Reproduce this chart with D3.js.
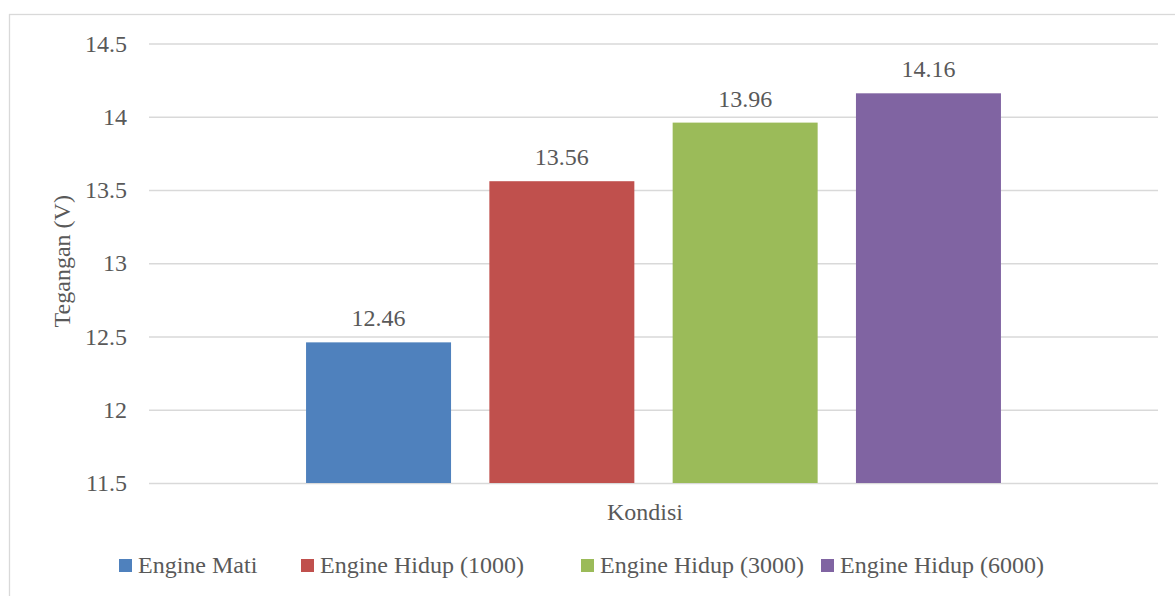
<!DOCTYPE html>
<html>
<head>
<meta charset="utf-8">
<script src="https://cdn.jsdelivr.net/npm/d3@7"></script>
<style>
  body { margin: 0; background: #fff; }
  text { font-family: "Liberation Serif", "Times New Roman", serif; fill: #595959; }
</style>
</head>
<body>
<div id="chart"></div>
<script>
var width = 1175, height = 596;
var margin = { top: 43.5, right: 17, bottom: 113, left: 149 };

var category = ["Kondisi"];
var series = ["Engine Mati", "Engine Hidup (1000)", "Engine Hidup (3000)", "Engine Hidup (6000)"];
var values = [12.46, 13.56, 13.96, 14.16];
var colours = ["#4f81bd", "#c0504d", "#9bbb59", "#8064a2"];
var yTicks = [11.5, 12, 12.5, 13, 13.5, 14, 14.5];

// legend item left edges (layout only)
var legendX = [119, 301, 581, 821];

var svg = d3.select("#chart")
    .append("svg")
    .attr("width", width)
    .attr("height", height);

// chart outer border (only top and left show inside the picture)
svg.append("rect")
    .attr("x", 9.5).attr("y", 14.5)
    .attr("width", 1300).attr("height", 800)
    .attr("fill", "none")
    .attr("stroke", "#d9d9d9")
    .attr("stroke-width", 1.3);

var x0 = d3.scaleBand()
    .domain(category)
    .range([margin.left, width - margin.right])
    .paddingInner(0)
    .paddingOuter(0.226);

var x1 = d3.scaleBand()
    .domain(series)
    .range([0, x0.bandwidth()])
    .paddingInner(0.209)
    .paddingOuter(0);

var y = d3.scaleLinear()
    .domain([11.5, 14.5])
    .range([height - margin.bottom, margin.top]);

// gridlines + tick labels
var yAxis = d3.axisLeft(y)
    .tickValues(yTicks)
    .tickSize(-(width - margin.right - margin.left))
    .tickPadding(22)
    .tickFormat(function(d){ return String(d); });

var ga = svg.append("g")
    .attr("transform", "translate(" + margin.left + ",0)")
    .call(yAxis);
ga.select(".domain").remove();
ga.selectAll(".tick line").attr("stroke", "#d9d9d9").attr("stroke-width", 1.4);
ga.selectAll(".tick text")
    .attr("font-size", 24)
    .attr("fill", "#595959")
    .style("font-family", "Liberation Serif, serif");

var g = svg.append("g")
    .attr("transform", "translate(" + x0(category[0]) + ",0)");

g.selectAll(".bar")
    .data(series)
    .enter()
    .append("rect")
    .attr("class", "bar")
    .attr("x", function(d){ return x1(d); })
    .attr("y", function(d, i){ return y(values[i]); })
    .attr("width", x1.bandwidth())
    .attr("height", function(d, i){ return y(11.5) - y(values[i]); })
    .attr("fill", function(d, i){ return colours[i]; });

g.selectAll(".lbl")
    .data(series)
    .enter()
    .append("text")
    .attr("class", "lbl")
    .attr("x", function(d){ return x1(d) + x1.bandwidth() / 2; })
    .attr("y", function(d, i){ return y(values[i]) - 16; })
    .attr("text-anchor", "middle")
    .attr("font-size", 24)
    .text(function(d, i){ return values[i].toFixed(2); });

// axis titles
svg.append("text")
    .attr("transform", "translate(70," + (y(13) - 2) + ") rotate(-90)")
    .attr("text-anchor", "middle")
    .attr("font-size", 24)
    .text("Tegangan (V)");

svg.append("text")
    .attr("x", 645)
    .attr("y", 520)
    .attr("text-anchor", "middle")
    .attr("font-size", 24)
    .text("Kondisi");

// legend
var legend = svg.append("g").attr("transform", "translate(0,559)");
series.forEach(function(s, i){
    var item = legend.append("g").attr("transform", "translate(" + legendX[i] + ",0)");
    item.append("rect")
        .attr("width", 13).attr("height", 13)
        .attr("fill", colours[i]);
    item.append("text")
        .attr("x", 19)
        .attr("y", 14)
        .attr("font-size", 24)
        .text(s);
});
</script>
</body>
</html>
